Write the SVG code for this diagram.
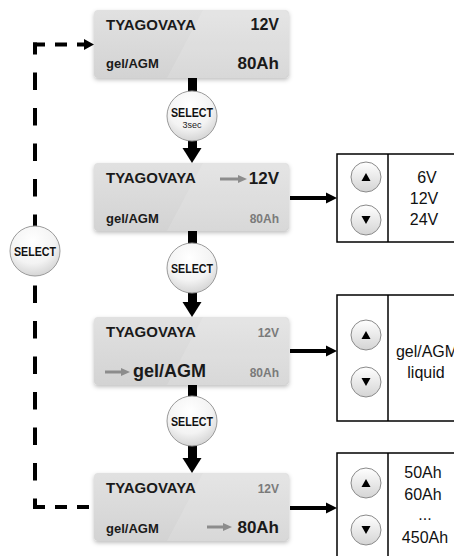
<svg xmlns="http://www.w3.org/2000/svg" width="454" height="556" viewBox="0 0 454 556">
<defs>
<linearGradient id="boxg" x1="0" y1="0" x2="0" y2="1">
<stop offset="0" stop-color="#e1e1e1"/>
<stop offset="1" stop-color="#d3d3d3"/>
</linearGradient>
<radialGradient id="circg" cx="0.45" cy="0.3" r="0.75">
<stop offset="0" stop-color="#ffffff"/>
<stop offset="0.6" stop-color="#f3f3f3"/>
<stop offset="1" stop-color="#cfcfcf"/>
</radialGradient>
<linearGradient id="btng" x1="0" y1="0" x2="0" y2="1">
<stop offset="0" stop-color="#ffffff"/>
<stop offset="1" stop-color="#d4d4d4"/>
</linearGradient>
<filter id="sh" x="-10%" y="-10%" width="125%" height="135%">
<feDropShadow dx="0" dy="2" stdDeviation="2" flood-color="#000" flood-opacity="0.25"/>
</filter>
</defs>
<style>
.box{fill:url(#boxg);filter:url(#sh)}
.hl{fill:#ffffff;opacity:0.13}
.t{font-family:"Liberation Sans",Arial,sans-serif;font-weight:bold;fill:#1a1a1a}
.g{fill:#7a7a7a}
.sel{font-family:"Liberation Sans",Arial,sans-serif;font-weight:bold;font-size:13.5px;fill:#111;text-anchor:middle}
.circ{fill:url(#circg);stroke:#9a9a9a;stroke-width:1}
.btn{fill:url(#btng);stroke:#8a8a8a;stroke-width:1}
.pt{font-family:"Liberation Sans",Arial,sans-serif;font-size:16px;fill:#111;text-anchor:middle}
.panel{fill:#fff;stroke:#000;stroke-width:1.5}
.garr{stroke:#8c8c8c;stroke-width:3;fill:none}
.dash{stroke:#000;stroke-width:4;fill:none}
</style>

<g id="connectors">
  <path class="dash" d="M35 42.5 V509" stroke-dasharray="17.5 18" stroke-dashoffset="5.5"/>
  <path class="dash" d="M33 44.5 H85" stroke-dasharray="12 10"/>
  <polygon points="84,39 94,44.5 84,50" fill="#000"/>
  <path class="dash" d="M33 507 H94" stroke-dasharray="12 10"/>
  <rect x="188" y="78" width="9" height="16" fill="#000"/>
  <rect x="188" y="138" width="9" height="12" fill="#000"/>
  <polygon points="182.5,148 201.5,148 192,163" fill="#000"/>
  <rect x="188" y="231" width="9" height="14" fill="#000"/>
  <rect x="188" y="290" width="9" height="14" fill="#000"/>
  <polygon points="182.5,302 201.5,302 192,317" fill="#000"/>
  <rect x="188" y="385" width="9" height="14" fill="#000"/>
  <rect x="188" y="443" width="9" height="17" fill="#000"/>
  <polygon points="182.5,458 201.5,458 192,473" fill="#000"/>
  <path d="M290 198 H328" stroke="#000" stroke-width="4"/>
  <polygon points="326,192.5 337,198 326,203.5" fill="#000"/>
  <path d="M290 351 H328" stroke="#000" stroke-width="4"/>
  <polygon points="326,345.5 337,351 326,356.5" fill="#000"/>
  <path d="M290 508 H328" stroke="#000" stroke-width="4"/>
  <polygon points="326,502.5 337,508 326,513.5" fill="#000"/>
</g>

<g id="box1">
  <rect class="box" x="94" y="10" width="195" height="68" rx="4"/>
  <polygon class="hl" points="203,10 285,10 289,14 289,74 285,78 167,78"/>
  <text class="t" x="106" y="30" font-size="15">TYAGOVAYA</text>
  <text class="t" x="279" y="30" font-size="16" text-anchor="end">12V</text>
  <text class="t" x="106" y="68" font-size="13">gel/AGM</text>
  <text class="t" x="279" y="69" font-size="17" text-anchor="end">80Ah</text>
</g>

<g id="box2">
  <rect class="box" x="94" y="163" width="195" height="68" rx="4"/>
  <polygon class="hl" points="203,163 285,163 289,167 289,227 285,231 167,231"/>
  <text class="t" x="106" y="183" font-size="15">TYAGOVAYA</text>
  <path class="garr" d="M220 179 H239"/>
  <polygon points="238,175 247,179 238,183" fill="#8c8c8c"/>
  <text class="t" x="279" y="184" font-size="17" text-anchor="end">12V</text>
  <text class="t" x="106" y="223" font-size="13">gel/AGM</text>
  <text class="t g" x="279" y="223" font-size="12" text-anchor="end">80Ah</text>
</g>

<g id="box3">
  <rect class="box" x="94" y="317" width="195" height="68" rx="4"/>
  <polygon class="hl" points="203,317 285,317 289,321 289,381 285,385 167,385"/>
  <text class="t" x="106" y="337" font-size="15">TYAGOVAYA</text>
  <text class="t g" x="279" y="337" font-size="12" text-anchor="end">12V</text>
  <path class="garr" d="M105 372 H122"/>
  <polygon points="121,368 130,372 121,376" fill="#8c8c8c"/>
  <text class="t" x="133" y="377" font-size="18">gel/AGM</text>
  <text class="t g" x="279" y="377" font-size="12" text-anchor="end">80Ah</text>
</g>

<g id="box4">
  <rect class="box" x="94" y="473" width="195" height="68" rx="4"/>
  <polygon class="hl" points="203,473 285,473 289,477 289,537 285,541 167,541"/>
  <text class="t" x="106" y="493" font-size="15">TYAGOVAYA</text>
  <text class="t g" x="279" y="493" font-size="12" text-anchor="end">12V</text>
  <text class="t" x="106" y="533" font-size="13">gel/AGM</text>
  <path class="garr" d="M207 527 H224"/>
  <polygon points="223,523 232,527 223,531" fill="#8c8c8c"/>
  <text class="t" x="279" y="533" font-size="17" text-anchor="end">80Ah</text>
</g>

<g id="select1">
  <circle class="circ" cx="192" cy="116" r="25"/>
  <text class="sel" x="192" y="117" textLength="42" lengthAdjust="spacingAndGlyphs">SELECT</text>
  <text x="192" y="128" font-family="Liberation Sans, Arial, sans-serif" font-size="9" fill="#222" text-anchor="middle">3sec</text>
</g>
<g id="select2">
  <circle class="circ" cx="192" cy="268" r="25"/>
  <text class="sel" x="192" y="273" textLength="42" lengthAdjust="spacingAndGlyphs">SELECT</text>
</g>
<g id="select3">
  <circle class="circ" cx="192" cy="421" r="25"/>
  <text class="sel" x="192" y="426" textLength="42" lengthAdjust="spacingAndGlyphs">SELECT</text>
</g>
<g id="select-loop">
  <circle class="circ" cx="35" cy="251" r="25"/>
  <text class="sel" x="35" y="256" textLength="42" lengthAdjust="spacingAndGlyphs">SELECT</text>
</g>

<g id="panel-voltage">
  <rect class="panel" x="337" y="154" width="130" height="88"/>
  <line x1="388" y1="154" x2="388" y2="242" stroke="#000" stroke-width="1.5"/>
  <circle class="btn" cx="366" cy="177" r="15"/>
  <polygon points="361.5,181 370.5,181 366,173" fill="#000"/>
  <circle class="btn" cx="366" cy="220" r="15"/>
  <polygon points="361.5,216 370.5,216 366,224" fill="#000"/>
  <text class="pt" x="427" y="183">6V</text>
  <text class="pt" x="424" y="204">12V</text>
  <text class="pt" x="424" y="225">24V</text>
</g>

<g id="panel-type">
  <rect class="panel" x="337" y="295" width="130" height="126"/>
  <line x1="388" y1="295" x2="388" y2="421" stroke="#000" stroke-width="1.5"/>
  <circle class="btn" cx="366" cy="335" r="15"/>
  <polygon points="361.5,339 370.5,339 366,331" fill="#000"/>
  <circle class="btn" cx="366" cy="382" r="15"/>
  <polygon points="361.5,378 370.5,378 366,386" fill="#000"/>
  <text class="pt" x="427" y="357">gel/AGM</text>
  <text class="pt" x="426" y="378">liquid</text>
</g>

<g id="panel-capacity">
  <rect class="panel" x="337" y="453" width="130" height="120"/>
  <line x1="388" y1="453" x2="388" y2="560" stroke="#000" stroke-width="1.5"/>
  <circle class="btn" cx="366" cy="483" r="15"/>
  <polygon points="361.5,487 370.5,487 366,479" fill="#000"/>
  <circle class="btn" cx="366" cy="530" r="15"/>
  <polygon points="361.5,526 370.5,526 366,534" fill="#000"/>
  <text class="pt" x="423" y="478" font-size="17">50Ah</text>
  <text class="pt" x="423" y="500" font-size="17">60Ah</text>
  <text class="pt" x="425" y="520" font-size="17">...</text>
  <text class="pt" x="425" y="543" font-size="17">450Ah</text>
</g>
</svg>
